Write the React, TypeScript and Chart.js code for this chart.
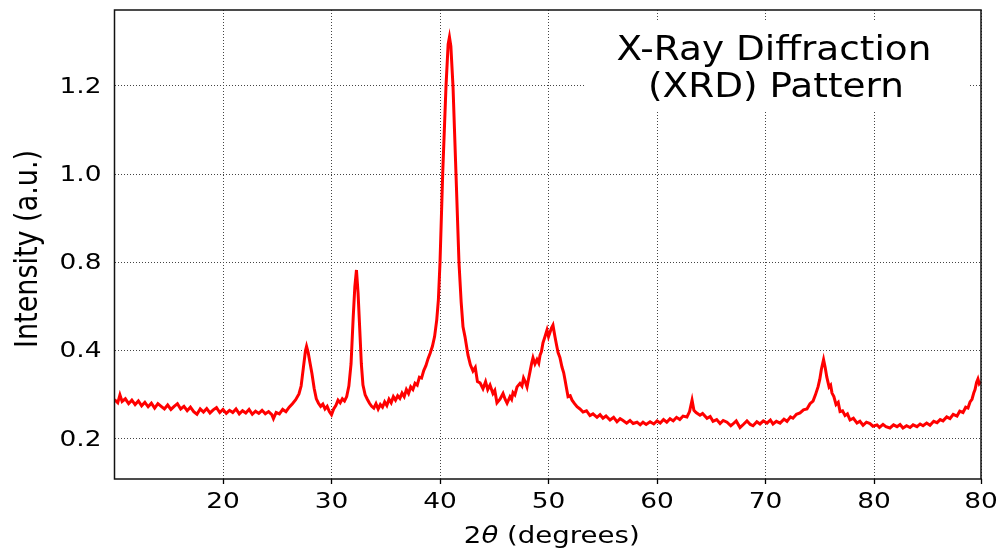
import React, { useEffect, useRef } from "react";
import { Chart, registerables } from "chart.js";

Chart.register(...registerables);

// XRD scan: [2θ, intensity]
const xrdScan: [number, number][] = [
  [10.0, 0.289], [10.3, 0.282], [10.5, 0.3], [10.7, 0.285], [11.0, 0.291], [11.3, 0.28], [11.6, 0.288], [11.9, 0.278],
  [12.2, 0.286], [12.5, 0.275], [12.8, 0.283], [13.1, 0.273], [13.4, 0.281], [13.7, 0.27], [14.0, 0.28], [14.3, 0.274],
  [14.6, 0.268], [14.9, 0.277], [15.2, 0.267], [15.5, 0.274], [15.8, 0.28], [16.1, 0.268], [16.4, 0.274], [16.7, 0.264],
  [17.0, 0.272], [17.3, 0.262], [17.6, 0.256], [17.9, 0.268], [18.2, 0.261], [18.5, 0.269], [18.8, 0.259], [19.1, 0.266],
  [19.4, 0.271], [19.7, 0.26], [20.0, 0.267], [20.3, 0.258], [20.6, 0.265], [20.9, 0.26], [21.2, 0.268], [21.5, 0.257],
  [21.8, 0.264], [22.1, 0.259], [22.4, 0.267], [22.7, 0.256], [23.0, 0.263], [23.3, 0.258], [23.6, 0.265], [23.9, 0.257],
  [24.2, 0.262], [24.5, 0.255], [24.65, 0.246], [24.9, 0.26], [25.2, 0.257], [25.5, 0.267], [25.8, 0.262], [26.1, 0.272],
  [26.4, 0.28], [26.7, 0.289], [27.0, 0.302], [27.2, 0.32], [27.4, 0.36], [27.6, 0.4], [27.7, 0.41], [27.85, 0.396],
  [28.0, 0.375], [28.2, 0.348], [28.4, 0.315], [28.6, 0.291], [28.8, 0.281], [29.0, 0.274], [29.2, 0.279], [29.4, 0.268],
  [29.6, 0.274], [29.8, 0.262], [30.0, 0.255], [30.2, 0.268], [30.4, 0.276], [30.6, 0.288], [30.8, 0.282], [31.0, 0.291],
  [31.2, 0.286], [31.4, 0.296], [31.6, 0.32], [31.8, 0.37], [32.0, 0.476], [32.15, 0.545], [32.3, 0.583], [32.45, 0.53],
  [32.6, 0.45], [32.75, 0.37], [32.9, 0.322], [33.1, 0.3], [33.3, 0.29], [33.5, 0.281], [33.7, 0.274], [33.9, 0.27],
  [34.1, 0.28], [34.3, 0.268], [34.5, 0.278], [34.7, 0.272], [34.9, 0.284], [35.1, 0.276], [35.3, 0.29], [35.5, 0.282],
  [35.7, 0.296], [35.9, 0.288], [36.1, 0.298], [36.3, 0.292], [36.5, 0.304], [36.7, 0.296], [36.9, 0.312], [37.1, 0.303],
  [37.3, 0.318], [37.5, 0.312], [37.7, 0.326], [37.9, 0.322], [38.1, 0.34], [38.3, 0.338], [38.5, 0.355], [38.7, 0.366],
  [38.9, 0.382], [39.1, 0.395], [39.3, 0.41], [39.5, 0.432], [39.7, 0.47], [39.85, 0.515], [40.0, 0.6], [40.25, 0.803],
  [40.55, 0.998], [40.75, 1.095], [40.87, 1.111], [41.0, 1.09], [41.2, 0.998], [41.47, 0.803], [41.75, 0.599], [41.95, 0.51],
  [42.12, 0.454], [42.3, 0.432], [42.58, 0.39], [42.8, 0.368], [43.04, 0.354], [43.25, 0.362], [43.45, 0.33], [43.69, 0.327],
  [43.96, 0.314], [44.2, 0.33], [44.4, 0.312], [44.61, 0.322], [44.88, 0.303], [45.05, 0.31], [45.25, 0.282], [45.53, 0.29],
  [45.81, 0.303], [46.0, 0.29], [46.18, 0.281], [46.45, 0.296], [46.6, 0.29], [46.73, 0.305], [46.9, 0.3], [47.1, 0.318],
  [47.37, 0.326], [47.55, 0.32], [47.7, 0.338], [47.85, 0.33], [48.02, 0.318], [48.15, 0.335], [48.29, 0.352], [48.45, 0.372],
  [48.57, 0.384], [48.75, 0.37], [48.94, 0.38], [49.1, 0.372], [49.22, 0.39], [49.35, 0.398], [49.49, 0.418], [49.65, 0.43],
  [49.86, 0.447], [50.0, 0.432], [50.14, 0.442], [50.28, 0.452], [50.41, 0.458], [50.5, 0.445], [50.6, 0.431], [50.75, 0.412],
  [50.88, 0.396], [51.05, 0.385], [51.24, 0.363], [51.4, 0.35], [51.52, 0.334], [51.65, 0.316], [51.8, 0.296], [52.0, 0.298],
  [52.17, 0.288], [52.4, 0.28], [52.63, 0.273], [52.9, 0.268], [53.18, 0.261], [53.5, 0.264], [53.82, 0.253], [54.1, 0.257],
  [54.47, 0.249], [54.75, 0.255], [55.02, 0.247], [55.3, 0.252], [55.67, 0.243], [56.0, 0.249], [56.31, 0.239], [56.6, 0.246],
  [56.87, 0.242], [57.2, 0.236], [57.51, 0.242], [57.8, 0.235], [58.16, 0.238], [58.45, 0.232], [58.71, 0.238], [59.0, 0.233],
  [59.36, 0.239], [59.7, 0.234], [60.0, 0.241], [60.3, 0.236], [60.6, 0.244], [60.9, 0.238], [61.2, 0.246], [61.5, 0.241],
  [61.8, 0.249], [62.1, 0.244], [62.4, 0.252], [62.76, 0.25], [63.0, 0.262], [63.23, 0.288], [63.4, 0.265], [63.6, 0.26],
  [63.96, 0.254], [64.2, 0.258], [64.61, 0.247], [64.9, 0.251], [65.16, 0.24], [65.5, 0.244], [65.81, 0.235], [66.1, 0.242],
  [66.45, 0.238], [66.8, 0.23], [67.0, 0.234], [67.3, 0.241], [67.65, 0.226], [68.0, 0.234], [68.29, 0.241], [68.6, 0.233],
  [68.85, 0.23], [69.2, 0.239], [69.49, 0.234], [69.8, 0.241], [70.14, 0.236], [70.45, 0.243], [70.69, 0.234], [71.0, 0.24],
  [71.34, 0.236], [71.7, 0.245], [71.98, 0.24], [72.3, 0.25], [72.53, 0.247], [72.85, 0.256], [73.18, 0.259], [73.5, 0.266],
  [73.82, 0.268], [74.1, 0.28], [74.38, 0.286], [74.6, 0.3], [74.84, 0.318], [75.0, 0.335], [75.15, 0.358], [75.35, 0.38],
  [75.5, 0.362], [75.65, 0.34], [75.86, 0.318], [76.0, 0.322], [76.13, 0.304], [76.3, 0.296], [76.5, 0.278], [76.7, 0.283],
  [76.87, 0.262], [77.1, 0.264], [77.33, 0.253], [77.55, 0.257], [77.79, 0.243], [78.1, 0.247], [78.43, 0.236], [78.7, 0.24],
  [78.99, 0.231], [79.3, 0.238], [79.63, 0.235], [79.9, 0.229], [80.28, 0.232], [80.5, 0.226], [80.83, 0.233], [81.1, 0.228],
  [81.47, 0.225], [81.8, 0.232], [82.12, 0.228], [82.4, 0.233], [82.67, 0.225], [83.0, 0.23], [83.32, 0.226], [83.6, 0.232],
  [83.96, 0.228], [84.25, 0.234], [84.52, 0.23], [84.85, 0.236], [85.16, 0.231], [85.5, 0.24], [85.81, 0.237], [86.1, 0.244],
  [86.36, 0.241], [86.7, 0.25], [87.0, 0.246], [87.3, 0.256], [87.65, 0.252], [87.9, 0.263], [88.2, 0.26], [88.45, 0.272],
  [88.66, 0.27], [88.85, 0.284], [89.03, 0.29], [89.2, 0.305], [89.31, 0.312], [89.45, 0.328], [89.58, 0.336], [89.7, 0.325],
  [89.86, 0.33],
];

const xMin = 10;
const xMax = 89.86;
const yMin = 0.1093;
const yMax = 1.1722;

const xTickValues = [20, 30, 40, 50, 60, 70, 80, 89.86];
const xTickLabels = ["20", "30", "40", "50", "60", "70", "80", "80"];
const yTickValues = [0.2, 0.4, 0.6, 0.8, 1.0];
const yTickLabels = ["0.2", "0.4", "0.8", "1.0", "1.2"];

const titleLines = ["X-Ray Diffraction", "(XRD) Pattern"];
const xTitleParts = ["2", "θ", " (degrees)"];
const yTitle = "Intensity (a.u.)";

const FONT = "'DejaVu Sans', 'Noto Sans', sans-serif";

function stretchedText(
  ctx: CanvasRenderingContext2D,
  text: string,
  x: number,
  y: number,
  align: CanvasTextAlign,
  sx: number
) {
  ctx.save();
  ctx.translate(x, y);
  ctx.scale(sx, 1);
  ctx.textAlign = align;
  ctx.fillText(text, 0, 0);
  ctx.restore();
}

const decorPlugin = {
  id: "xrdDecor",
  afterDraw(chart: any) {
    const { ctx, chartArea: a, scales } = chart;
    const xs = scales.x;
    const ys = scales.y;
    ctx.save();
    ctx.setLineDash([]);

    // frame
    ctx.strokeStyle = "#111";
    ctx.lineWidth = 1.5;
    ctx.strokeRect(a.left, a.top, a.right - a.left, a.bottom - a.top);

    ctx.fillStyle = "#000";

    // x tick labels
    ctx.font = `22px ${FONT}`;
    ctx.textBaseline = "alphabetic";
    xTickValues.forEach((v, i) => {
      stretchedText(ctx, xTickLabels[i], xs.getPixelForValue(v), a.bottom + 29, "center", 1.2);
    });

    // y tick labels
    ctx.textBaseline = "middle";
    yTickValues.forEach((v, i) => {
      stretchedText(ctx, yTickLabels[i], a.left - 13, ys.getPixelForValue(v) + 1, "right", 1.2);
    });

    // x axis title
    ctx.textBaseline = "alphabetic";
    const sxT = 1.2;
    const fReg = `23px ${FONT}`;
    const fIt = `italic 23px ${FONT}`;
    ctx.font = fReg;
    const w0 = ctx.measureText(xTitleParts[0]).width;
    const w2 = ctx.measureText(xTitleParts[2]).width;
    ctx.font = fIt;
    const w1 = ctx.measureText(xTitleParts[1]).width;
    const total = (w0 + w1 + w2) * sxT;
    const cx = (a.left + a.right) / 2 + 4;
    let px = cx - total / 2;
    const by = 543;
    ctx.font = fReg;
    stretchedText(ctx, xTitleParts[0], px, by, "left", sxT);
    px += w0 * sxT;
    ctx.font = fIt;
    stretchedText(ctx, xTitleParts[1], px, by, "left", sxT);
    px += w1 * sxT;
    ctx.font = fReg;
    stretchedText(ctx, xTitleParts[2], px, by, "left", sxT);

    // y axis title (rotated)
    ctx.save();
    ctx.font = `27px ${FONT}`;
    ctx.translate(37, 249);
    ctx.rotate(-Math.PI / 2);
    ctx.scale(1, 1.18);
    ctx.textAlign = "center";
    ctx.fillText(yTitle, 0, 0);
    ctx.restore();

    // title box
    ctx.fillStyle = "#fff";
    ctx.fillRect(585, 20, 383, 90);
    ctx.fillStyle = "#000";
    ctx.font = `34px ${FONT}`;
    ctx.textBaseline = "alphabetic";
    stretchedText(ctx, titleLines[0], 774, 60, "center", 1.1);
    stretchedText(ctx, titleLines[1], 776, 97, "center", 1.1);

    ctx.restore();
  },
};

export default function App() {
  const ref = useRef<HTMLCanvasElement | null>(null);

  useEffect(() => {
    if (!ref.current) return;
    const chart = new Chart(ref.current, {
      type: "line",
      data: {
        datasets: [
          {
            label: "XRD",
            data: xrdScan.map(([x, y]) => ({ x, y })),
            borderColor: "#ff0000",
            borderWidth: 3,
            pointRadius: 0,
            tension: 0,
            fill: false,
          },
        ],
      },
      options: {
        animation: false,
        responsive: false,
        maintainAspectRatio: false,
        parsing: true as any,
        layout: { padding: { left: 0, top: 10, right: 19, bottom: 0 } },
        plugins: {
          legend: { display: false },
          tooltip: { enabled: false },
          title: { display: false },
        },
        scales: {
          x: {
            type: "linear",
            min: xMin,
            max: xMax,
            afterBuildTicks: (axis: any) => {
              axis.ticks = xTickValues.map((v) => ({ value: v }));
            },
            afterFit: (axis: any) => {
              axis.height = 73;
            },
            ticks: { display: false },
            grid: {
              color: "#444",
              lineWidth: 1,
              drawTicks: true,
              tickLength: 5,
              tickColor: "#000",
              tickWidth: 1.3,
              tickBorderDash: [],
            } as any,
            border: { display: false, dash: [1, 2] },
          },
          y: {
            type: "linear",
            min: yMin,
            max: yMax,
            afterBuildTicks: (axis: any) => {
              axis.ticks = yTickValues.map((v) => ({ value: v }));
            },
            afterFit: (axis: any) => {
              axis.width = 114.5;
            },
            ticks: { display: false },
            grid: {
              color: "#444",
              lineWidth: 1,
              drawTicks: false,
            },
            border: { display: false, dash: [1, 2] },
          },
        },
      },
      plugins: [decorPlugin],
    });
    return () => chart.destroy();
  }, []);

  return (
    <div style={{ position: "absolute", left: 0, top: 0, width: 1000, height: 552, background: "#fff" }}>
      <canvas ref={ref} width={1000} height={552} style={{ display: "block" }} />
    </div>
  );
}
